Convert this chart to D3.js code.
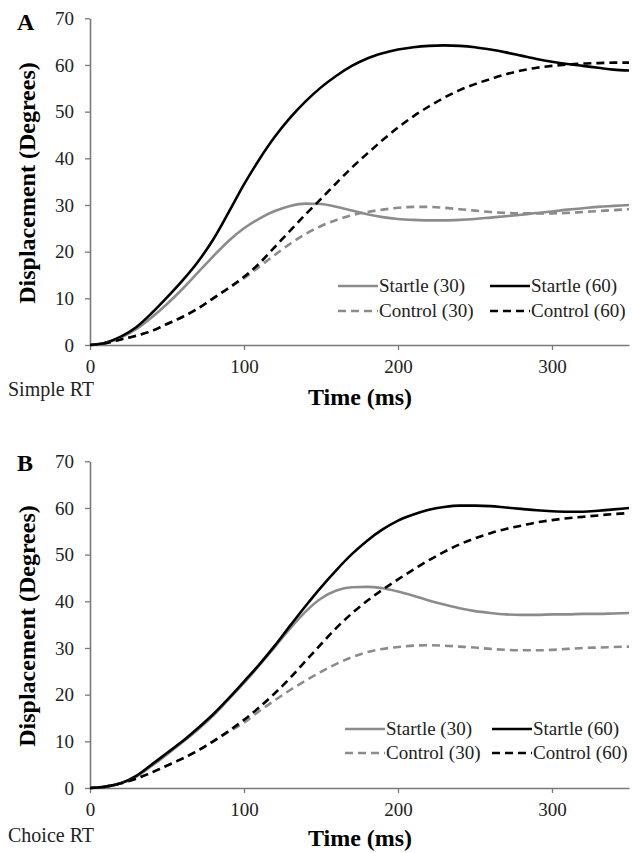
<!DOCTYPE html>
<html><head><meta charset="utf-8">
<script src="https://cdn.jsdelivr.net/npm/d3@7"></script>
<style>body{margin:0;background:#fff}svg{display:block}</style>
</head><body>
<script>
const time = [0,10,20,30,40,50,60,70,80,90,100,110,120,130,140,150,160,170,180,190,200,210,220,230,240,250,260,270,280,290,300,310,320,330,340,350];
const xTicks = [0,100,200,300];
const yTicks = [0,10,20,30,40,50,60,70];
const seriesNames = ["Startle (30)","Startle (60)","Control (30)","Control (60)"];

// Panel A — Simple RT
const aStartle30 = [0,0.4,1.6,3.4,5.9,8.8,12,15.5,19,22.3,25,27.1,28.7,29.8,30.3,30.2,29.6,28.8,28,27.4,27,26.8,26.7,26.7,26.8,27,27.3,27.6,27.9,28.3,28.6,29,29.3,29.6,29.8,30];
const aStartle60 = [0,0.5,1.8,3.8,6.8,10.2,13.8,17.8,22.6,28.4,34.4,39.8,44.6,48.7,52.2,55.2,57.7,59.8,61.4,62.5,63.3,63.8,64.1,64.2,64.1,63.8,63.3,62.7,62,61.3,60.7,60.2,59.8,59.4,59,58.8];
const aControl30 = [0,0.4,1.2,2,3,4.5,6,7.8,10,12.2,14.3,16.8,19.3,21.7,23.8,25.5,26.8,27.8,28.5,29,29.4,29.6,29.6,29.4,29.1,28.8,28.5,28.3,28.2,28.2,28.2,28.3,28.5,28.7,28.9,29.1];
const aControl60 = [0,0.4,1.2,2,3,4.5,6,7.8,10,12.2,14.6,17.5,21,24.5,28,31.3,34.7,38,41,43.9,46.6,49,51.1,53,54.6,55.9,57,58,58.8,59.4,59.8,60.1,60.3,60.4,60.5,60.5];

// Panel B — Choice RT
const bStartle30 = [0,0.3,1,2.4,4.7,7.2,9.8,12.5,15.5,19,22.5,26.3,30.2,34.2,37.8,40.6,42.3,43,43.1,42.8,42.1,41.2,40.2,39.3,38.5,37.9,37.5,37.2,37.1,37.1,37.2,37.2,37.3,37.3,37.4,37.5];
const bStartle60 = [0,0.3,1,2.6,5,7.5,10,12.8,15.8,19.2,22.8,26.5,30.5,34.8,39,43,46.7,50.1,53,55.4,57.3,58.6,59.6,60.2,60.5,60.5,60.4,60.1,59.8,59.5,59.3,59.2,59.2,59.4,59.7,60];
const bControl30 = [0,0.3,1,2,3.3,4.8,6.3,8,10,12,14,16.5,18.8,21,23,24.9,26.6,28,29.1,29.8,30.2,30.5,30.6,30.5,30.3,30.1,29.8,29.6,29.5,29.5,29.6,29.8,30,30.1,30.2,30.3];
const bControl60 = [0,0.3,1,2,3.3,4.8,6.3,8,10,12.2,14.6,17.3,20.3,23.6,27.2,30.8,34.3,37.4,40.1,42.5,44.7,46.8,48.8,50.6,52.2,53.5,54.6,55.5,56.2,56.9,57.4,57.8,58.1,58.4,58.7,58.9];

const W = 632, H = 853;
const svg = d3.select("body").append("svg").attr("width", W).attr("height", H);
const serif = "'Liberation Serif','Times New Roman',serif";
const GRAY = "#8c8c8c";
const styles = [
  {color: GRAY, dash: null},
  {color: "#000", dash: null},
  {color: GRAY, dash: "8,5"},
  {color: "#000", dash: "8,5"}
];

function panel(opt) {
  const g = svg.append("g");
  const x = d3.scaleLinear().domain([0,350]).range([90,629]);
  const y = d3.scaleLinear().domain([0,70]).range([opt.y0, opt.y0 - 326.7]);

  const xa = g.append("g").attr("transform", `translate(0,${opt.y0})`)
    .call(d3.axisBottom(x).tickValues(xTicks).tickSize(5).tickPadding(10).tickSizeOuter(0));
  const ya = g.append("g").attr("transform", `translate(90,0)`)
    .call(d3.axisLeft(y).tickValues(yTicks).tickSize(5).tickPadding(11).tickSizeOuter(0));
  [xa, ya].forEach(a => {
    a.select(".domain").attr("stroke", "#7a7a7a").attr("stroke-width", 1.6);
    a.selectAll(".tick line").attr("stroke", "#7a7a7a").attr("stroke-width", 1.3);
    a.selectAll(".tick text").attr("font-family", serif).attr("font-size", 19).attr("fill", "#222");
  });

  const line = d3.line().x((d,i) => x(time[i])).y(d => y(d)).curve(d3.curveMonotoneX);
  opt.series.forEach((s, k) => {
    g.append("path").datum(s).attr("d", line).attr("fill", "none")
      .attr("stroke", styles[k].color).attr("stroke-width", 2.6)
      .attr("stroke-dasharray", styles[k].dash);
  });

  // legend
  const lg = g.append("g");
  const cols = [opt.lx1, opt.lx2];
  const rows = [opt.ly1, opt.ly2];
  seriesNames.forEach((name, k) => {
    const cx = cols[k % 2], cy = rows[Math.floor(k / 2)];
    lg.append("line").attr("x1", cx).attr("x2", cx + 40).attr("y1", cy).attr("y2", cy)
      .attr("stroke", styles[k].color).attr("stroke-width", 2.6)
      .attr("stroke-dasharray", styles[k].dash);
    lg.append("text").attr("x", cx + 41).attr("y", cy + 6).text(name)
      .attr("font-family", serif).attr("font-size", 19).attr("fill", "#222");
  });

  g.append("text").attr("x", 17).attr("y", opt.letterY).text(opt.letter)
    .attr("font-family", serif).attr("font-size", 24).attr("font-weight", "bold");
  g.append("text").attr("transform", `translate(35,${opt.ylabY}) rotate(-90)`)
    .attr("text-anchor", "middle").text("Displacement (Degrees)")
    .attr("font-family", serif).attr("font-size", 24).attr("font-weight", "bold");
  g.append("text").attr("x", 360).attr("y", opt.xlabY).attr("text-anchor", "middle")
    .text("Time (ms)").attr("font-family", serif).attr("font-size", 24).attr("font-weight", "bold");
  g.append("text").attr("x", 8).attr("y", opt.noteY).text(opt.note)
    .attr("font-family", serif).attr("font-size", 20).attr("fill", "#222");
}

panel({y0: 345, series: [aStartle30, aStartle60, aControl30, aControl60],
  lx1: 338, lx2: 490, ly1: 286, ly2: 311, letter: "A", letterY: 30, ylabY: 183,
  xlabY: 405, note: "Simple RT", noteY: 396});
panel({y0: 788, series: [bStartle30, bStartle60, bControl30, bControl60],
  lx1: 345, lx2: 492, ly1: 729, ly2: 753, letter: "B", letterY: 471, ylabY: 626,
  xlabY: 846, note: "Choice RT", noteY: 842});
</script>
</body></html>
